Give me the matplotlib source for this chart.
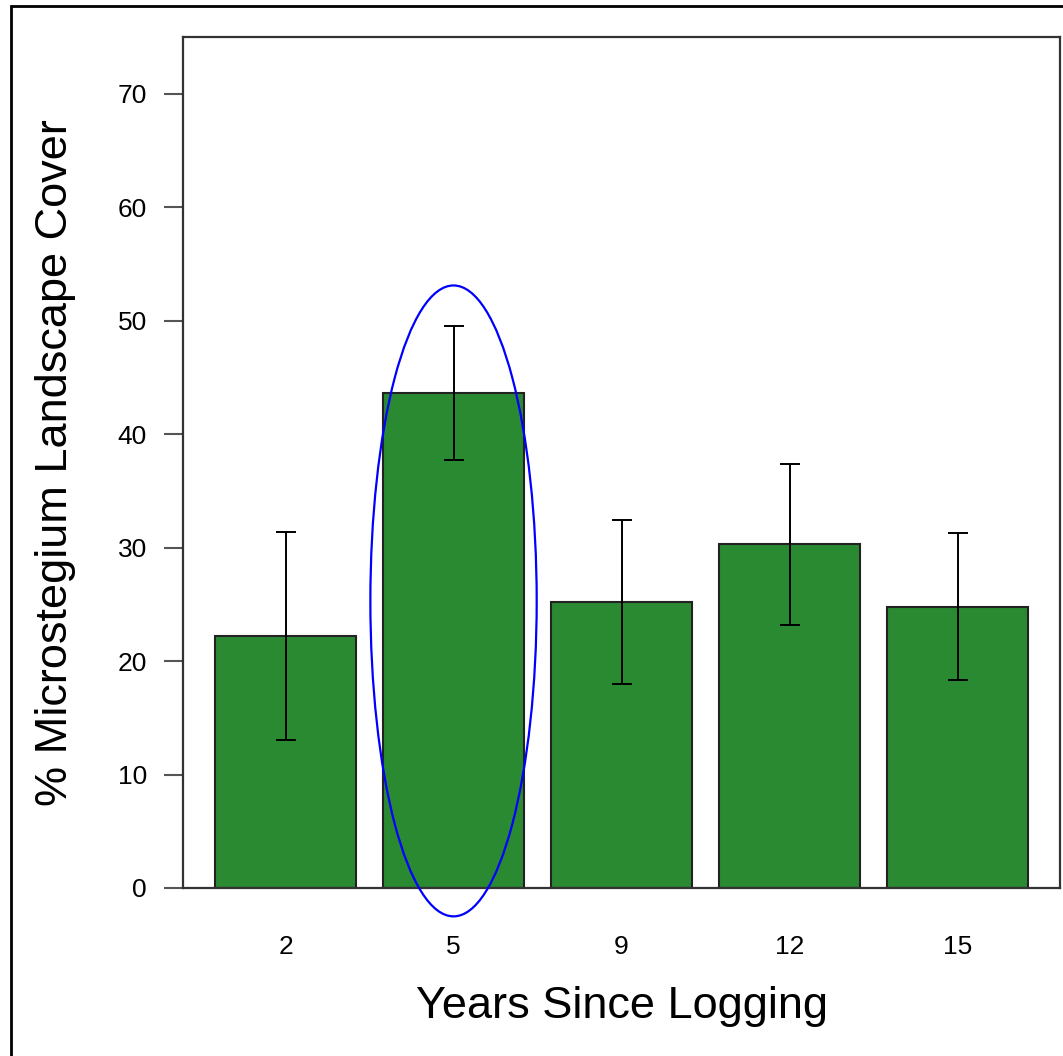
import matplotlib
matplotlib.use("Agg")
import matplotlib.pyplot as plt
from matplotlib.patches import Ellipse, Rectangle

# Mean cover and standard error by years since logging
years = ["2", "5", "9", "12", "15"]
cover = [22.2, 43.6, 25.2, 30.3, 24.8]
std_err = [9.2, 5.9, 7.2, 7.1, 6.5]
y_ticks = [0, 10, 20, 30, 40, 50, 60, 70]

plt.rcParams["font.family"] = ["Liberation Sans", "DejaVu Sans"]

fig = plt.figure(figsize=(10.63, 10.56), dpi=100)
ax = fig.add_axes([0.1722, 0.1591, 0.8250, 0.8059])

x = list(range(len(years)))
ax.bar(x, cover, width=0.84, color="#2a8a32", edgecolor="#222222",
       linewidth=1.5, zorder=2)
ax.errorbar(x, cover, yerr=std_err, fmt="none", ecolor="black",
            elinewidth=1.4, capsize=7, capthick=1.4, zorder=3)

# Highlight around the 5-year bar
ax.add_patch(Ellipse((1, 25.3), width=0.99, height=55.6, fill=False,
                     edgecolor="#0000ff", linewidth=1.6, clip_on=False,
                     zorder=4))

ax.set_xlim(-0.61, 4.61)
ax.set_ylim(0, 75)
ax.set_xticks(x)
ax.set_xticklabels(years)
ax.set_yticks(y_ticks)
ax.tick_params(axis="x", length=0, pad=34, labelsize=19)
ax.tick_params(axis="y", length=14, width=1.5, color="#555555",
               pad=12, labelsize=19)

for spine in ax.spines.values():
    spine.set_linewidth(1.6)
    spine.set_color("#333333")

ax.set_xlabel("Years Since Logging", fontsize=32.5, labelpad=19)
ax.set_ylabel("% Microstegium Landscape Cover", fontsize=32.5, labelpad=30)

# Frame around the whole figure
fig.patches.append(Rectangle((11 / 1063, -0.01), 1.05, 1 - 6 / 1056 + 0.01,
                             transform=fig.transFigure, fill=False,
                             edgecolor="black", linewidth=2.0))

fig.savefig("out.png", dpi=100)
